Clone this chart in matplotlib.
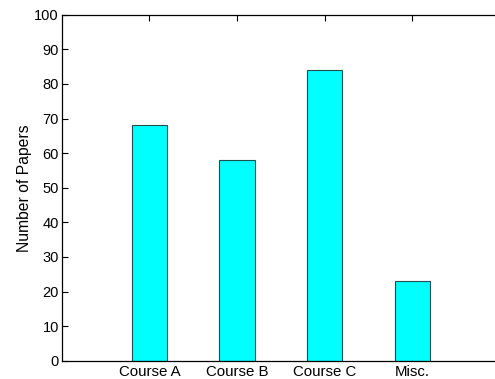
import matplotlib
matplotlib.use("Agg")
import matplotlib.pyplot as plt

categories = ["Course A", "Course B", "Course C", "Misc."]
values = [68, 58, 84, 23]
yticks = list(range(0, 101, 10))

plt.rcParams['font.family'] = ['Liberation Sans', 'DejaVu Sans']

fig = plt.figure(figsize=(4.95, 3.79), dpi=100)
ax = fig.add_axes([61.7/495, 1 - 360.7/379, (500 - 61.7)/495, (360.7 - 14.7)/379])
x = list(range(1, len(categories) + 1))
ax.bar(x, values, width=0.4, color='#00ffff', edgecolor='#1f4f4f', linewidth=0.8, zorder=2)
ax.set_xlim(0, 5)
ax.set_ylim(0, 100)
ax.set_xticks(x)
ax.set_xticklabels(categories, fontsize=10.8)
ax.set_yticks(yticks)
ax.set_yticklabels([str(t) for t in yticks], fontsize=10.5)
ax.tick_params(direction='in', length=4, width=0.8, top=True, right=False, pad=2)
ax.tick_params(axis='x', pad=3)
for s in ax.spines.values():
    s.set_linewidth(0.9)
ax.set_ylabel("Number of Papers", fontsize=11.3, labelpad=2)
fig.savefig("out.png", dpi=100)
